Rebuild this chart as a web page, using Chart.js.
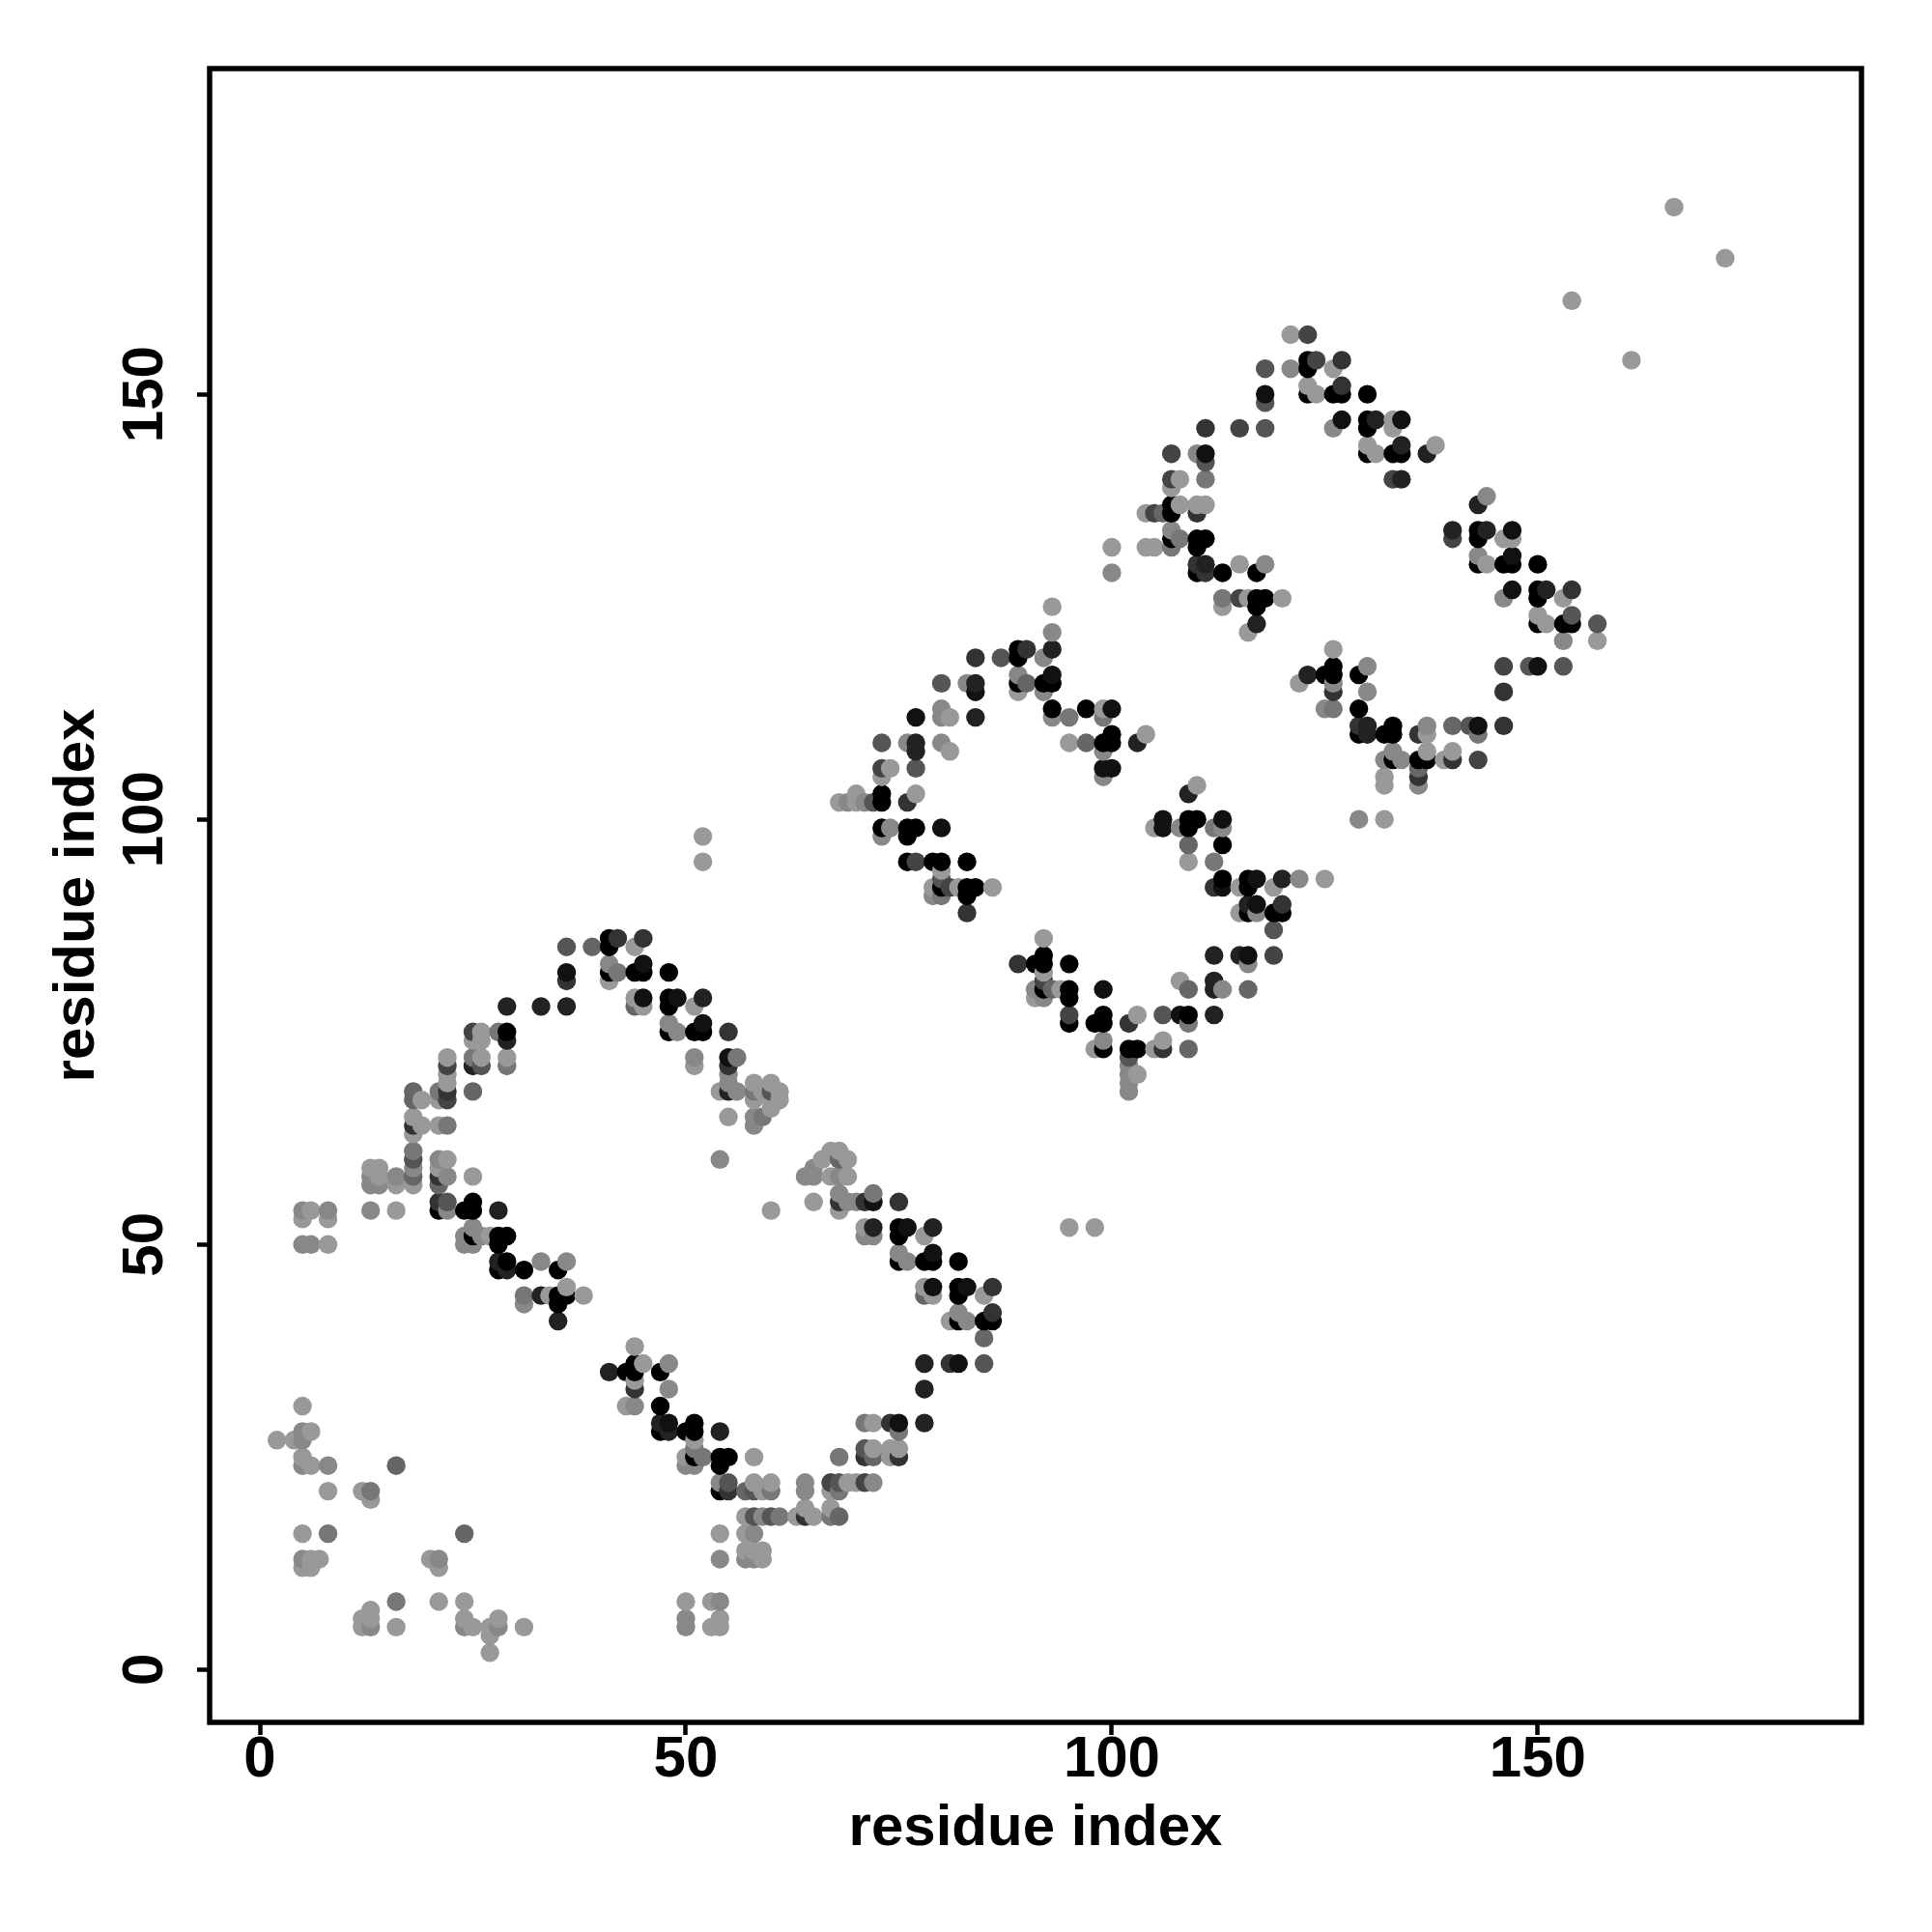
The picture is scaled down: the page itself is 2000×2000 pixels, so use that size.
<!DOCTYPE html>
<html><head><meta charset="utf-8">
<style>html,body{margin:0;padding:0;background:#fff}canvas{display:block}</style>
<script src="https://cdn.jsdelivr.net/npm/chart.js@4/dist/chart.umd.min.js"></script>
</head><body><canvas id="c" width="2000" height="2000" style="width:2000px;height:2000px"></canvas>
<script>
const xTickValues = [0, 50, 100, 150];
const yTickValues = [0, 50, 100, 150];
const axisTitle = 'residue index';
const residues = [2,4,5,6,7,8,12,13,14,16,18,19,20,21,22,24,25,26,27,28,29,31,33,34,35,36,38,39,41,42,43,44,45,47,48,49,50,51,52,53,54,55,56,57,58,59,60,61,63,64,65,66,67,68,69,70,71,72,73,74,75,76,77,78,79,80,81,82,83,84,85,86,87,89,90,91,92,93,94,95,97,98,99,100,102,103,104,105,106,107,108,109,110,111,112,113,115,116,117,118,119,120,121,122,123,124,125,126,127,129,130,131,132,133,134,136,137,138,139,140,142,143,144,146,147,149,150,151,153,154,157,161,166,172];
const partners = [
[27],[27],[12,13,16,24,25,27,28,31,50,53,54],[12,13,24,28,50,54],[13],[16,21,24,50,53,54],
[5,6,21],[5,6,7,20,21,54,57,58,59],[57,58,59],[5,8,24,54,57,58],[57,58,59,60,61,63,64,65,67,68],[64,67],[13],
[8,12,13,54,55,57,58,59,60,64,67,68],[54,55,58,60,64,67,68,69,70,71,72],[5,6,8,16,50,51,54],
[5,50,51,52,54,55,58,68,71,72,74,75],[51,71,72,74,75],[2,4,5,51],[5,6,47,48,50,51,54,75],[47,48,51,71,72,74,75,78],
[5,43,44,47],[44,48,78],[44],[41,43,44,47],[44,45,48,78,81,82,85],[44],[85],[35,81,82,83,85,86],[82,86],[31,35],
[31,33,34,35,36,38,78,79,82,85],[36,78,79,82,83,86],[28,29,31,35],[28,29,33,36,75,76,78,79,82],[75,79],[5,6,8,24,25,28],
[24,25,26,27,28,29,71,72,75,78],[25,75,76,79,95,98],[5,8],[5,6,8,13,16,21,22,24,25,28,60,68],[21,22,25,65,68,69,70,71,72,75],
[68,72],[13,14,16,18,21],[13,14,16,18,21,22,25,64,65,67,68,69],[13,14,18,21,65,68],[18,21,22,54,66,67,68,69],[18,67,68],[18],
[18,19,21,22,58],[18,55,58,59],[60],[18,19,21,22,58,61],[18,21,22,25,54,55,56,58,60,61,102],[22,55,58,60,102],[22,55,102,103],
[22,25,26,29,51,52,55,102],[22,25,26,29,51,52,55,56,102],[98,99,102,103,105,106,109],[25,26,29,99,106],[25,26,28,29,48,49,51,52,55],
[48,52,95,98,99,102,109],[95,99,103,106,108,109,112],[29,33,36,44,45,48,51],[44,45,48,49,52,91,92,95],[91,92,93,94,95,99,109,112,113,116],
[36,41,92,108,112],[36,41,42,44,45,48,92],[41,45,89,91,92,95,116],[92,112,115,116,119],[36,39,41,44],[41,42,45,92],[119],
[83,115,116,117,119,120],[116,120],[79,80,83],[79,80,81,82,83,84,86,115,116,119],[80,112,113,116,117,120,122,125],[80],
[52,76,77,79,80,83,109,112],[109,113],[52,73,76],[73,74,76,77,80,105,106,108,109,112,113],[106,109,110,113,129,132],
[68,69,70,71,72,73,76],[70,73,77,109],[110,132,136],[73,99,132,136],[73,74,77,99,100,136],[132,133,134,136,137,139,140,143],
[77,81,99,133,137,140],[73,76,77,80,95,97,99,100,103],[100,104,129,130,132,133,136,137,143],[129,130,133,137,140,142,143,146],
[77,80,81,84,92,95,99],[80,92,93,97,99,100,125,126,129],[84,89,92,126,130,146],[80,83,84,89,90,92,93,122,126],[89,90,93,123,125,126,129],
[126,130,146,149,150,153],[84,87,89,92],[89,90,93,126],[153,157],[93,116],[117,150,151,153,154,157],[150,154],[93,113,117],
[113,115,116,117,118,120,146,150,153],[147,150,151,154],[100,110,111,113,117],[110,111,115,118,143,144,146,147,150],[143,147],
[100,104,105,107,110],[107,108,110,111,140,143,146,147],[107,140,143,144,147],[104,105,106,107,110],[107,108,110,111,143],[144],[107],
[107,108,111,133,134],[111],[107,110,111,130,131,133,134,137],[130,134,138],[111,115,118,126,130,133],[127,130,131,133,134],[118],
[118,123,124,126,127,130],[123,127],[118,121,123,126],[123,124,127,161],[121,123],[154],[172],[166]
];
const strengths = [
[0],[0],[0,1,0,1,0,1,1,0,1,0,1],[0,0,0,0,1,0],[0],[2,0,1,0,0,1],
[0,0,0],[1,0,0,0,2,1,1,1,0],[1,0,0],[0,2,3,0,0,1],[0,3,1,4,2,0,6,0,3,3],[0,0],[0],
[0,0,1,9,6,3,6,0,1,0,0,2],[1,4,1,0,2,5,6,0,0,5,0],[1,0,0,3,1,1,9],
[0,1,9,1,9,9,0,3,7,2,0,5],[1,4,0,0,0],[0,0,0,0],[1,0,9,7,9,9,7,2],[7,9,9,2,0,7,9,7],
[0,1,2,9],[7,1,7],[0],[7,9,9,9],[9,0,1,7,6,8,4],[0],[3],[7,0,9,1,9,9],[2,6],[0,9],
[1,6,0,9,9,0,3,0,9,0],[0,0,8,9,8,6],[9,7,9,9],[7,8,1,1,9,1,9,9,9],[1,8],[1,1,0,1,0,9],
[1,9,2,0,9,9,0,1,9,0],[2,9,8,7,0,0],[0,0],[0,0,1,1,0,9,1,9,9,7,1,0],[6,4,9,0,7,1,1,6,8,6],
[1,2],[1,0,0,0,3],[1,0,1,4,4,0,0,1,1,0,2,0],[0,0,1,0,2,0],[4,2,0,0,0,0,4,0],[2,0,0],[0],
[6,0,1,1,1],[0,0,1,1],[0],[2,0,0,5,0,0],[3,2,4,2,0,6,1,1,3,0,0],[0,1,0,0,1],[0,1,0,0],
[5,6,4,2,1,0,6,1],[1,3,0,0,1,7,8,2,4],[1,9,9,9,0,5,4],[0,0,6,1,0],[6,0,2,8,9,1,9,9,6],
[1,8,9,9,9,6,1],[5,9,0,4,7,7,8],[7,7,7,3,0,9,0],[0,8,9,8,7,1,0,9],[2,9,4,0,9,8,1,1,1,4],
[6,0,5,0,0],[8,9,1,9,9,9,0],[1,8,6,9,9,9,1],[9,7,8,7,6],[4,3,9,0],[9,6,6,0],[4],
[6,0,9,1,9,9],[3,6],[0,1,9],[1,9,5,0,9,9,0,1,9,1],[3,1,9,9,8,7,1,0],[0],
[0,9,5,9,9,9,0,2],[3,9],[0,0,9],[9,1,9,9,8,1,8,1,9,2,0],[8,9,9,8,1,0],
[1,1,1,1,4,9,6],[0,9,0,7],[0,0,0],[0,0,0,5],[6,0,4,8,8,3],[2,9,1,9,9,0,5,5],
[8,0,1,2,0,0],[3,2,9,3,0,3,9,9,7],[9,0,9,6,9,9,6,0,1],[6,7,9,0,2,4,8,6],
[7,7,7,7,6,2,2],[1,8,9,9,1,8,0,2,9],[7,0,0,5,0,5],[3,1,8,9,7,9,9,0,0],[1,8,8,7,9,9,9],
[9,1,4,4,8,4],[5,4,9,0],[9,6,7,0],[1,0],[1,0],[7,9,0,9,9,5],[0,5],[0,1,9],
[2,6,1,9,9,0,1,9,0],[8,9,6,6],[1,9,6,9,9],[7,7,1,1,9,0,9,9,9],[0,7],
[0,0,0,1,9],[9,1,9,9,5,9,0,0],[1,7,9,7,8],[1,6,3,9,6],[9,0,0,1,7],[0],[0],
[6,0,3,5,7],[4],[5,2,8,9,1,9,9,7],[0,7,1],[6,6,5,1,9,0],[8,9,8,0,8],[4],
[8,9,0,9,9,9],[0,7],[4,1,9,0],[9,4,6,0],[0,4],[0],[0],[0]
];

const points = [], shades = [];
residues.forEach((r, k) => partners[k].forEach((p, m) => {
  points.push({x: r, y: p});
  const g = 153 - 17 * (strengths[k][m] || 0);
  shades.push(`rgb(${g},${g},${g})`);
}));

const FONT = {family: '"Liberation Sans", Arial, sans-serif', size: 60, weight: 'bold', lineHeight: 1.2};
const fixTicks = values => scale => { scale.ticks = values.map(v => ({value: v})); };
const frame = {
  id: 'frame',
  afterDraw(chart) {
    const a = chart.chartArea, c = chart.ctx;
    c.save(); c.strokeStyle = '#000'; c.lineWidth = 5.5;
    c.strokeRect(a.left, a.top, a.right - a.left, a.bottom - a.top);
    c.restore();
  }
};
new Chart(document.getElementById('c'), {
  type: 'scatter',
  data: {datasets: [{data: points, backgroundColor: shades, borderWidth: 0, pointRadius: 9.7, pointHoverRadius: 9.7}]},
  plugins: [frame],
  options: {
    responsive: false, animation: false, devicePixelRatio: 1,
    layout: {padding: {top: 71, right: 73, left: 0, bottom: 0}},
    plugins: {legend: {display: false}, tooltip: {enabled: false}},
    scales: {
      x: {
        type: 'linear', min: -5.9, max: 188,
        afterBuildTicks: fixTicks(xTickValues),
        afterFit(s) { s.height = 217; },
        grid: {drawOnChartArea: false, drawTicks: true, tickLength: 13, tickWidth: 4.5, tickColor: '#000'},
        border: {display: false},
        ticks: {color: '#000', font: FONT, padding: -10, maxRotation: 0, autoSkip: false},
        title: {display: true, text: axisTitle, color: '#000', font: FONT, padding: {top: 0, bottom: 70.6}}
      },
      y: {
        type: 'linear', min: -6.2, max: 188.3,
        afterBuildTicks: fixTicks(yTickValues),
        afterFit(s) { s.width = 217; },
        grid: {drawOnChartArea: false, drawTicks: true, tickLength: 13, tickWidth: 4.5, tickColor: '#000'},
        border: {display: false},
        ticks: {color: '#000', font: FONT, padding: 2.2, minRotation: 90, maxRotation: 90, crossAlign: 'center', autoSkip: false},
        title: {display: true, text: axisTitle, color: '#000', font: FONT, padding: {top: 44, bottom: 0}}
      }
    }
  }
});
</script></body></html>
